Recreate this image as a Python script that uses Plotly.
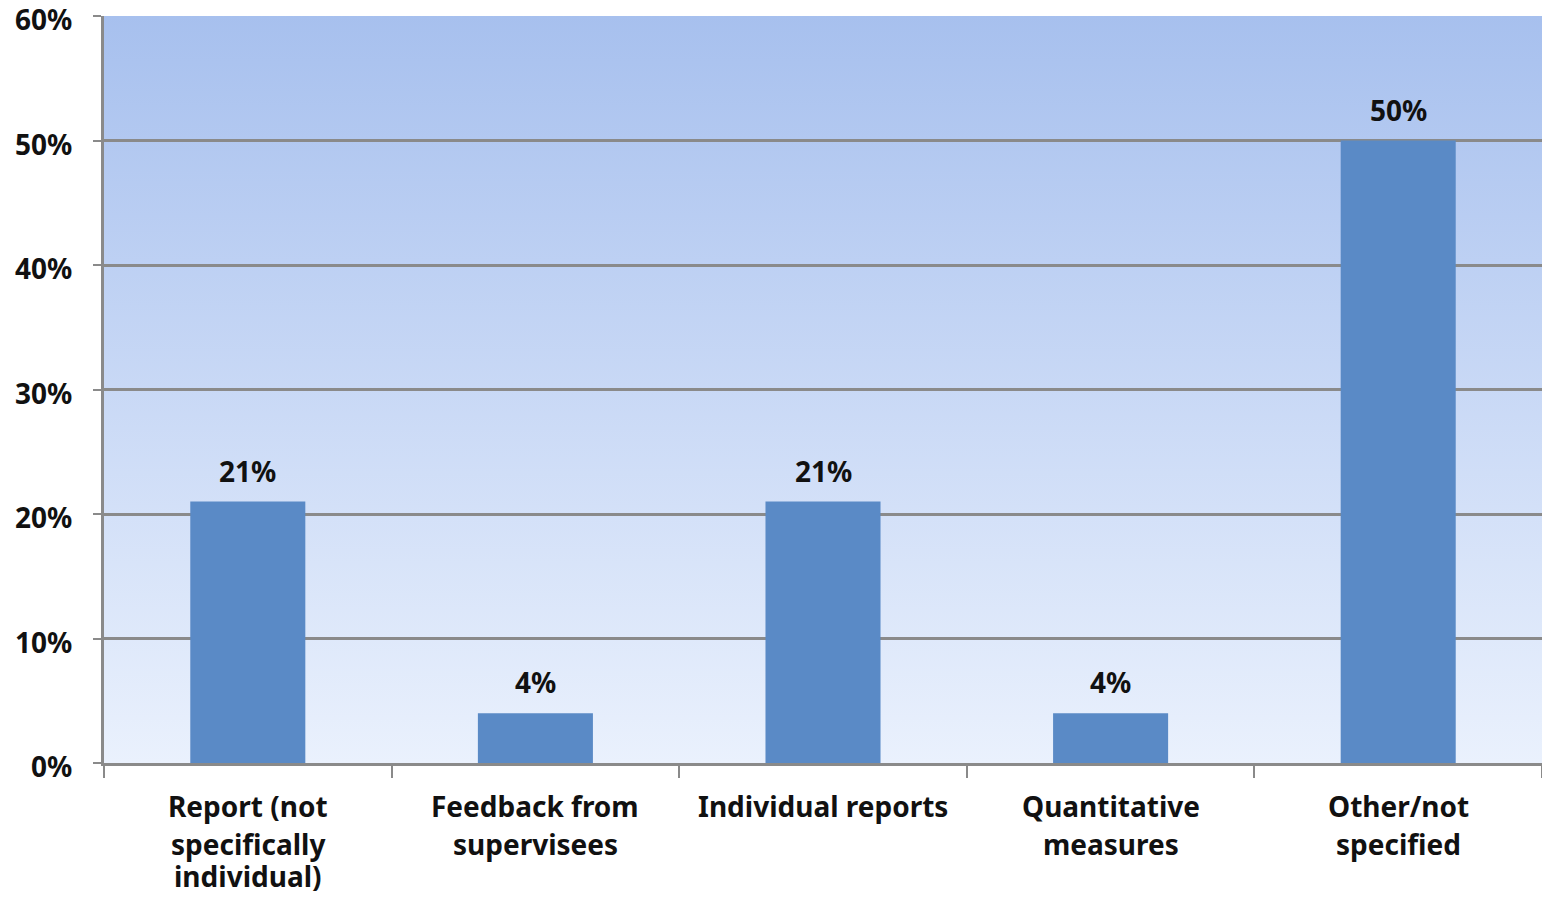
import base64
import plotly.graph_objects as go

categories = [
    "Report (not<br>specifically<br>individual)",
    "Feedback from<br>supervisees",
    "Individual reports",
    "Quantitative<br>measures",
    "Other/not<br>specified",
]
values = [0.21, 0.04, 0.21, 0.04, 0.50]
y_ticks = [0, 0.1, 0.2, 0.3, 0.4, 0.5, 0.6]
y_tick_labels = ["0%", "10%", "20%", "30%", "40%", "50%", "60%"]

FONT = "Noto Sans"
FS = 28
TXT = "#111111"
GRID = "#8a8a8a"

svg = (
    '<svg xmlns="http://www.w3.org/2000/svg" width="100" height="100" preserveAspectRatio="none">'
    '<defs><linearGradient id="g" x1="0" y1="0" x2="0" y2="1">'
    '<stop offset="0" stop-color="#a7c0ee"/>'
    '<stop offset="1" stop-color="#eaf1fd"/>'
    '</linearGradient></defs>'
    '<rect width="100" height="100" fill="url(#g)"/></svg>'
)
bg_uri = "data:image/svg+xml;base64," + base64.b64encode(svg.encode()).decode()

fig = go.Figure()
fig.add_trace(go.Bar(
    x=categories,
    y=values,
    width=0.4,
    marker=dict(color="#5a8ac6", line=dict(width=0)),
    hoverinfo="skip",
))

label_font = dict(family=FONT, size=FS, color=TXT, weight="bold")

# value labels above bars
for c, v in zip(categories, values):
    fig.add_annotation(
        x=c, y=v, xref="x", yref="y",
        text=f"{round(v * 100)}%",
        showarrow=False, yanchor="middle", yshift=31,
        font=label_font,
    )

# category labels, one line at a time (reference uses wider line spacing)
LINE_SHIFTS = [-43, -81, -113]
for c in categories:
    for i, line in enumerate(c.split("<br>")):
        fig.add_annotation(
            x=c, y=0, xref="x", yref="paper",
            text=line, showarrow=False,
            xanchor="center", yanchor="middle", yshift=LINE_SHIFTS[i],
            font=label_font,
        )

# y-axis labels (placed slightly below their gridline, as in the reference)
for t, lab in zip(y_ticks, y_tick_labels):
    fig.add_annotation(
        x=0, y=t, xref="paper", yref="y",
        text=lab, showarrow=False,
        xanchor="right", yanchor="middle", xshift=-30, yshift=-3,
        font=label_font,
    )

fig.add_layout_image(
    source=bg_uri, xref="paper", yref="paper", x=0, y=1,
    sizex=1, sizey=1, xanchor="left", yanchor="top",
    sizing="stretch", layer="below",
)

# page body has an 8px margin; size the figure so nothing scrolls
fig.update_layout(
    width=1534, height=883,
    margin=dict(l=96, r=0, t=8, b=128),
    paper_bgcolor="white",
    plot_bgcolor="rgba(0,0,0,0)",
    showlegend=False,
    bargap=0.6,
    font=label_font,
)
fig.update_yaxes(
    range=[0, 0.6],
    tickvals=y_ticks,
    showticklabels=False,
    showgrid=True, gridcolor=GRID, gridwidth=2.5,
    showline=True, linecolor=GRID, linewidth=2.5,
    ticks="outside", ticklen=8, tickwidth=2, tickcolor=GRID,
    automargin=False,
    zeroline=False,
)
fig.update_xaxes(
    showline=True, linecolor=GRID, linewidth=2.5,
    ticks="outside", ticklen=12, tickwidth=2, tickcolor=GRID,
    tickson="boundaries",
    showgrid=False,
    showticklabels=False,
    automargin=False,
)

fig.write_html("out.html")
